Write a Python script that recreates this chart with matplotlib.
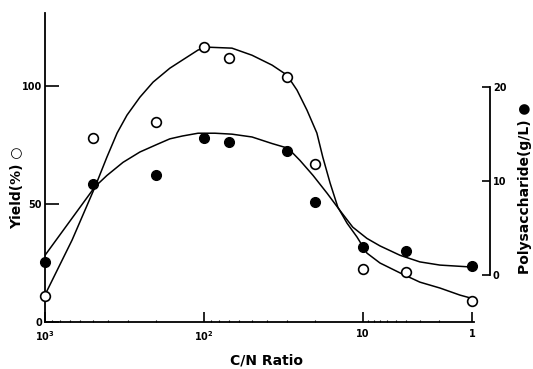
import matplotlib
matplotlib.use("Agg")
import matplotlib.pyplot as plt
from matplotlib.ticker import FixedLocator, NullFormatter
import numpy as np

# C/N ratio of each sample and measured values
cn_ratio = [1000, 500, 200, 100, 70, 30, 20, 10, 4, 1]
yield_pct = [11, 78, 85, 116.5, 112, 104, 67, 22.5, 21, 9]
polysaccharide = [1.4, 9.7, 10.7, 14.6, 14.2, 13.2, 7.8, 3.0, 2.6, 1.0]

# hand-drawn fitted curves
yield_curve_x = [1000, 676, 485, 408, 352, 305, 253, 209, 164, 137, 109, 94, 66.7, 49.9, 37.3,
                 30.1, 26.0, 22.5, 19.5, 17.9, 16.1, 14.4, 12.6, 10.9, 9.2, 6.98, 4.57, 3.01,
                 1.97, 1.29, 1.0]
yield_curve_y = [11.5, 34.7, 57.2, 69.9, 80.1, 87.7, 95.3, 101.7, 107.6, 111, 115.3, 116.5, 116.1,
                 113.1, 108.9, 104.7, 98.3, 89.8, 80.1, 69.9, 58.9, 48.7, 41.9, 36.0, 29.2, 25.0,
                 20.8, 16.9, 14.4, 11.4, 10.0]
poly_curve_x = [1000, 485, 408, 323, 253, 198, 164, 137, 109, 85.3, 66.7, 49.9, 37.3, 29.6, 24.9,
                20.6, 16.8, 14.0, 11.6, 9.2, 6.98, 4.57, 3.01, 1.97, 1.0]
poly_curve_y = [2.1, 9.4, 10.6, 12.0, 13.1, 13.9, 14.5, 14.8, 15.1, 15.1, 15.0, 14.7, 14.0, 13.5,
                12.2, 10.6, 8.7, 6.9, 5.1, 3.9, 3.1, 2.1, 1.4, 1.06, 0.85]

xtick_values = [1000, 100, 10, 1]
xtick_labels = [r"$\mathbf{10^3}$", r"$\mathbf{10^2}$", "10", "1"]

# the original axis squeezes the last decade (10 -> 1)
SQUEEZE = 0.686


def fwd(x):
    lx = np.log10(np.maximum(np.asarray(x, dtype=float), 1e-12))
    return np.where(lx >= 1, lx, 1 - (1 - lx) * SQUEEZE)


def inv(s):
    s = np.asarray(s, dtype=float)
    return np.where(s >= 1, 10.0 ** s, 10.0 ** (1 - (1 - s) / SQUEEZE))


fig = plt.figure(figsize=(5.33, 3.69), dpi=100)
ax = fig.add_axes([45 / 533, 47 / 369, 429 / 533, 309 / 369])
ax2 = ax.twinx()

ax.set_xscale("function", functions=(fwd, inv))
ax.set_xlim(1000, 0.96)
ax.set_ylim(0, 131)
ax2.set_ylim(-5.0, 27.9)

ax.plot(yield_curve_x, yield_curve_y, color="black", lw=1.1, solid_joinstyle="round")
ax2.plot(poly_curve_x, poly_curve_y, color="black", lw=1.1, solid_joinstyle="round")
ax.plot(cn_ratio, yield_pct, "o", ms=7, mfc="white", mec="black", mew=1.2, clip_on=False, zorder=5)
ax2.plot(cn_ratio, polysaccharide, "o", ms=7, mfc="black", mec="black", clip_on=False, zorder=5)

for s in ["top", "right"]:
    ax.spines[s].set_visible(False)
for s in ["top", "left", "bottom"]:
    ax2.spines[s].set_visible(False)
ax.spines["left"].set_linewidth(1.3)
ax.spines["bottom"].set_linewidth(1.3)
ax2.spines["right"].set_position(("outward", 11.5))
ax2.spines["right"].set_bounds(0, 20)
ax2.spines["right"].set_linewidth(1.3)

ax.xaxis.set_major_locator(FixedLocator(xtick_values))
ax.set_xticklabels(xtick_labels)
minor = [m * d for d in [1, 10, 100] for m in range(2, 10)]
ax.xaxis.set_minor_locator(FixedLocator(minor))
ax.xaxis.set_minor_formatter(NullFormatter())
ax.tick_params(axis="x", which="major", direction="in", length=7, width=1.2, pad=5)
ax.tick_params(axis="x", which="minor", direction="in", length=1.5, width=0.8)

ax.set_yticks([0, 50, 100])
ax.tick_params(axis="y", direction="in", length=10, width=1.2, pad=2)
ax2.set_yticks([0, 10, 20])
ax2.tick_params(axis="y", direction="in", length=6, width=1.2, pad=2)

for lab in ax.get_xticklabels() + ax.get_yticklabels() + ax2.get_yticklabels():
    lab.set_fontsize(7)
    lab.set_fontweight("bold")

ax.set_xlabel("C/N Ratio", fontsize=10, fontweight="bold")
ax.xaxis.set_label_coords((266 - 45) / 429, -(354 - 322) / 309)
ax.set_ylabel("Yield(%) \u25cb", fontsize=10, fontweight="bold")
ax.yaxis.set_label_coords((24 - 45) / 429, (322 - 188) / 309)
ax2.set_ylabel("Polysaccharide(g/L) \u25cf", fontsize=10, fontweight="bold")
ax2.yaxis.set_label_coords((518 - 45) / 429, (322 - 188) / 309)

fig.savefig("out.png", dpi=100)
